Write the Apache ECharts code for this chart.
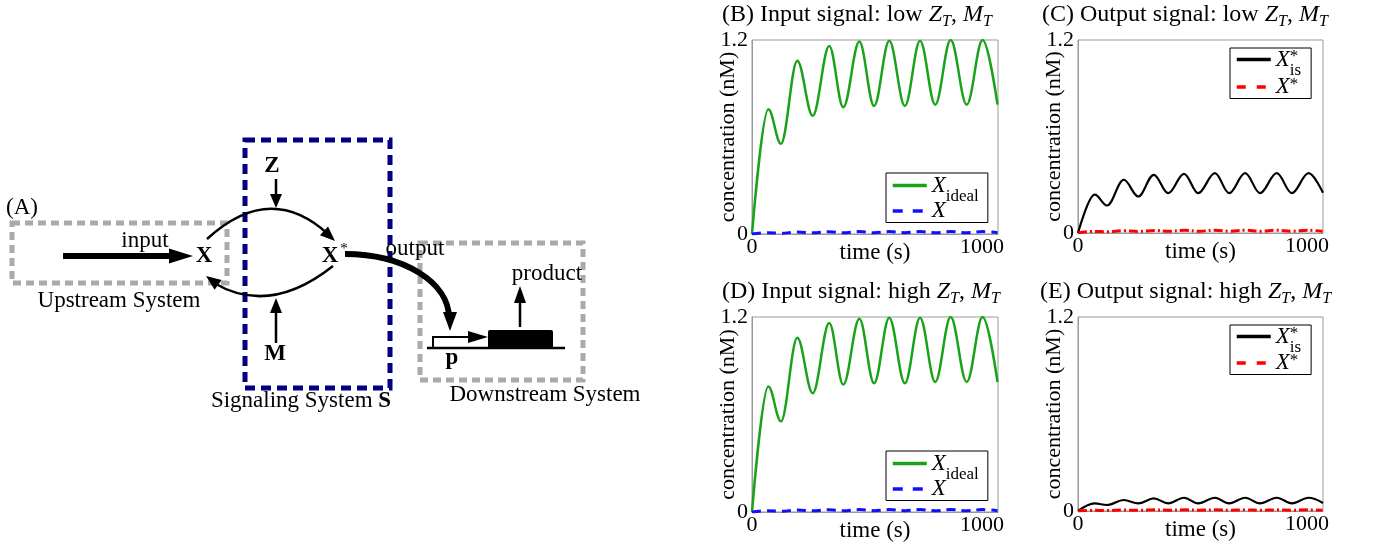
<!DOCTYPE html>
<html>
<head>
<meta charset="utf-8">
<script src="https://cdn.jsdelivr.net/npm/echarts@6/dist/echarts.min.js"></script>
<style>
  html, body { margin: 0; padding: 0; background: #fff; }
  #main { width: 1375px; height: 544px; }
</style>
</head>
<body>
<div id="main"></div>
<script>
// 数据: 时间 (s) 与浓度 (nM), 取曲线的峰与谷
const timeIdeal = [0, 71, 126, 197, 264, 336, 397, 467, 531, 597, 665, 731, 797, 864, 934, 1003, 1068];
const valIdeal = [0, 0.772, 0.558, 1.072, 0.731, 1.163, 0.784, 1.19, 0.792, 1.195, 0.792, 1.195, 0.80, 1.2, 0.80, 1.2, 0.80];

const timeSmall = [0, 71, 126, 197, 264, 336, 397, 467, 531, 597, 665, 731, 797, 864, 934, 1003, 1068];
const valX = [0, 0.008, 0.005, 0.012, 0.007, 0.014, 0.008, 0.015, 0.008, 0.015, 0.008, 0.015, 0.008, 0.015, 0.008, 0.015, 0.008];
const valStarLow = [0, 0.01, 0.008, 0.014, 0.01, 0.016, 0.011, 0.017, 0.011, 0.017, 0.011, 0.017, 0.011, 0.017, 0.011, 0.017, 0.011];
const valStarHigh = [0, 0.004, 0.003, 0.006, 0.004, 0.007, 0.005, 0.007, 0.005, 0.007, 0.005, 0.007, 0.005, 0.007, 0.005, 0.007, 0.005];

const timeIs = [0, 73, 127, 200, 263, 331, 394, 463, 525, 598, 660, 730, 795, 868, 934, 1007, 1070];
const valIsLow = [0, 0.238, 0.171, 0.331, 0.227, 0.362, 0.248, 0.368, 0.248, 0.372, 0.248, 0.372, 0.248, 0.372, 0.248, 0.372, 0.25];
const valIsHigh = [0, 0.047, 0.037, 0.068, 0.047, 0.078, 0.047, 0.082, 0.047, 0.082, 0.047, 0.082, 0.047, 0.082, 0.047, 0.082, 0.05];

const xTicks = [0, 1000];
const yTicks = [0, 1.2];
const timeMax = 1070;

const FONT = 'Liberation Serif';
const pairs = (t, v) => t.map((x, i) => [x, v[i]]);

// 图例文字 (富文本: 上标/下标)
const legendNames = {
  Xideal: '{i|X}{sub|ideal}',
  X: '{i|X}',
  Xis: '{i|X}{sup0|*}{sub|is}',
  Xstar: '{i|X}{sup|*}'
};
const richMath = {
  i: { fontFamily: FONT, fontStyle: 'italic', fontSize: 23, lineHeight: 22 },
  sub: { fontFamily: FONT, fontSize: 17, lineHeight: 8, verticalAlign: 'top', padding: [14, 0, 0, 0] },
  sup: { fontFamily: FONT, fontSize: 17, lineHeight: 8, verticalAlign: 'top' },
  sup0: { fontFamily: FONT, fontSize: 17, lineHeight: 8, verticalAlign: 'top', width: 0 }
};

// 各子图位置
const panels = [
  { grid: { left: 752, top: 40, width: 246, height: 194 }, title: '(B) Input signal: low', tpos: [722, 2],
    legend: { left: 886, top: 173, gap: -6 }, kind: 'input' },
  { grid: { left: 1078, top: 40, width: 245, height: 193 }, title: '(C) Output signal: low', tpos: [1042, 2],
    legend: { left: 1230, top: 48, gap: -4 }, kind: 'outLow' },
  { grid: { left: 752, top: 317, width: 246, height: 195 }, title: '(D) Input signal: high', tpos: [722, 279],
    legend: { left: 886, top: 451, gap: -6 }, kind: 'input' },
  { grid: { left: 1078, top: 317, width: 245, height: 194 }, title: '(E) Output signal: high', tpos: [1040, 279],
    legend: { left: 1230, top: 325, gap: -5 }, kind: 'outHigh' }
];

const grid = [], xAxis = [], yAxis = [], series = [], title = [], legend = [];

panels.forEach((p, k) => {
  grid.push(Object.assign({ show: true, borderColor: '#999', borderWidth: 1, backgroundColor: 'transparent' }, p.grid));
  xAxis.push({
    type: 'value', gridIndex: k, min: 0, max: timeMax, interval: xTicks[1] - xTicks[0],
    name: 'time (s)', nameLocation: 'middle', nameGap: 7, nameMoveOverlap: false,
    nameTextStyle: { fontFamily: FONT, fontSize: 23, color: '#000' },
    axisLine: { lineStyle: { color: '#999' } }, axisTick: { show: false }, splitLine: { show: false },
    axisLabel: { margin: 2, fontFamily: FONT, fontSize: 22, color: '#000',
      formatter: v => (xTicks.indexOf(v) >= 0 ? String(v) : '') }
  });
  yAxis.push({
    type: 'value', gridIndex: k, min: 0, max: yTicks[1], interval: yTicks[1] - yTicks[0],
    name: 'concentration (nM)', nameLocation: 'middle', nameGap: 13, nameRotate: 90, nameMoveOverlap: false,
    nameTextStyle: { fontFamily: FONT, fontSize: 22, color: '#000' },
    axisLine: { show: true, lineStyle: { color: '#999' } }, axisTick: { show: false }, splitLine: { show: false },
    axisLabel: { margin: 4, fontFamily: FONT, fontSize: 22, color: '#000',
      formatter: v => (v === 0 ? '0' : v.toFixed(1)) }
  });
  title.push({
    text: p.title + ' {i|Z}{s|T}, {i|M}{s|T}', left: p.tpos[0], top: p.tpos[1], padding: 0,
    textStyle: { fontFamily: FONT, fontSize: 24, fontWeight: 'normal', color: '#000', lineHeight: 26,
      rich: {
        i: { fontFamily: FONT, fontStyle: 'italic', fontSize: 24, lineHeight: 26 },
        s: { fontFamily: FONT, fontStyle: 'italic', fontSize: 16, lineHeight: 10, verticalAlign: 'top', padding: [12, 0, 0, 0] }
      } }
  });

  const base = { type: 'line', xAxisIndex: k, yAxisIndex: k, showSymbol: false, symbol: 'none',
    smooth: 0.36, smoothMonotone: 'x' };
  let names;
  if (p.kind === 'input') {
    names = [{ name: 'Xideal' }, { name: 'X', lineStyle: { type: [10, 10] } }];
    series.push(Object.assign({}, base, { name: 'Xideal', data: pairs(timeIdeal, valIdeal),
      lineStyle: { color: '#1aa31a', width: 2.5 }, itemStyle: { color: '#1aa31a' } }));
    series.push(Object.assign({}, base, { name: 'X', data: pairs(timeSmall, valX),
      lineStyle: { color: '#1010ff', width: 3, type: [9, 6] }, itemStyle: { color: '#1010ff' } }));
  } else {
    const high = p.kind === 'outHigh';
    names = [{ name: 'Xis' }, { name: 'Xstar', lineStyle: { type: [9, 11] } }];
    series.push(Object.assign({}, base, { name: 'Xis', data: pairs(timeIs, high ? valIsHigh : valIsLow),
      lineStyle: { color: '#000', width: 2.2 }, itemStyle: { color: '#000' } }));
    series.push(Object.assign({}, base, { name: 'Xstar', data: pairs(timeSmall, high ? valStarHigh : valStarLow),
      lineStyle: { color: '#ff0000', width: 3, type: [9, 3, 2, 3] }, itemStyle: { color: '#ff0000' } }));
  }
  const isIn = p.kind === 'input';
  legend.push({
    data: names, orient: 'vertical', left: p.legend.left, top: p.legend.top,
    itemWidth: 34, itemHeight: 14, itemGap: p.legend.gap,
    padding: isIn ? [1, 9, 0, 5] : [0, 10, 0, 5],
    borderColor: '#000', borderWidth: 1, backgroundColor: '#fff',
    selectedMode: false,
    itemStyle: { opacity: 0 },
    lineStyle: { width: 3.5 },
    formatter: n => legendNames[n],
    textStyle: { fontFamily: FONT, fontSize: 22, color: '#000', lineHeight: 22, rich: richMath }
  });
});

// 示意图 (A)
function head(tx, ty, ang, len, hw) {
  const bx = tx - len * Math.cos(ang), by = ty - len * Math.sin(ang);
  const px = -Math.sin(ang) * hw, py = Math.cos(ang) * hw;
  return { type: 'polygon', shape: { points: [[tx, ty], [bx + px, by + py], [bx - px, by - py]] }, style: { fill: '#000' } };
}
function txt(text, x, y, extra) {
  return { type: 'text', x: x, y: y, style: Object.assign({
    text: text, fontFamily: FONT, fontSize: 23, fill: '#000',
    align: 'center', verticalAlign: 'middle', textAlign: 'center', textVerticalAlign: 'middle'
  }, extra || {}) };
}
const boxGray = { fill: 'none', stroke: '#aaa', lineWidth: 5, lineDash: [8, 5] };
const lineBlack = w => ({ stroke: '#000', lineWidth: w, fill: 'none' });

const diagram = [
  { type: 'rect', shape: { x: 12, y: 223, width: 215, height: 60 }, style: boxGray },
  { type: 'rect', shape: { x: 420, y: 243, width: 163, height: 137 }, style: boxGray },
  { type: 'rect', shape: { x: 245, y: 140, width: 145, height: 248 },
    style: { fill: 'none', stroke: '#00007f', lineWidth: 5, lineDash: [10, 6] } },
  // input
  { type: 'line', shape: { x1: 63, y1: 256, x2: 175, y2: 256 }, style: lineBlack(6) },
  head(193, 256, 0, 24, 7.5),
  // 上下弧
  { type: 'bezierCurve', shape: { x1: 207, y1: 239, cpx1: 270, cpy1: 181, x2: 328, y2: 234 }, style: lineBlack(2.5) },
  head(335, 241, Math.atan2(60, 65), 15, 6),
  { type: 'bezierCurve', shape: { x1: 333, y1: 266, cpx1: 270, cpy1: 316, x2: 214, y2: 283 }, style: lineBlack(2.5) },
  head(206, 276, Math.atan2(-46, -63), 15, 6),
  // Z, M
  { type: 'line', shape: { x1: 276, y1: 179, x2: 276, y2: 197 }, style: lineBlack(2.5) },
  head(276, 208, Math.PI / 2, 14, 6),
  { type: 'line', shape: { x1: 276, y1: 343, x2: 276, y2: 310 }, style: lineBlack(2.5) },
  head(276, 298, -Math.PI / 2, 15, 6),
  // output
  { type: 'bezierCurve', shape: { x1: 345, y1: 254, cpx1: 403, cpy1: 254, cpx2: 449, cpy2: 282, x2: 449, y2: 318 }, style: lineBlack(6) },
  head(450, 331, Math.PI / 2, 19, 7),
  // 启动子与基因
  { type: 'line', shape: { x1: 427, y1: 348, x2: 565, y2: 348 }, style: lineBlack(2.5) },
  { type: 'rect', shape: { x: 488, y: 330, width: 65, height: 19, r: 2 }, style: { fill: '#000' } },
  { type: 'polyline', shape: { points: [[433, 348], [433, 337], [470, 337]] }, style: lineBlack(2) },
  head(488, 337, 0, 20, 6),
  { type: 'line', shape: { x1: 520, y1: 327, x2: 520, y2: 300 }, style: lineBlack(2.5) },
  head(520, 286, -Math.PI / 2, 17, 6),
  // 文字
  txt('(A)', 6, 208, { align: 'left', textAlign: 'left' }),
  txt('input', 145, 241),
  txt('X', 204, 256, { fontWeight: 'bold' }),
  txt('Upstream System', 119, 301),
  txt('Z', 272, 166, { fontWeight: 'bold' }),
  txt('M', 275, 354, { fontWeight: 'bold' }),
  txt('X', 330, 256, { fontWeight: 'bold' }),
  txt('*', 344, 249, { fontSize: 15 }),
  txt('output', 415, 249),
  txt('product', 547, 274),
  txt('p', 452, 358, { fontWeight: 'bold' }),
  txt('Signaling System {b|S}', 301, 401, { rich: { b: { fontFamily: FONT, fontSize: 23, fontWeight: 'bold' } } }),
  txt('Downstream System', 545, 395)
];

const chart = echarts.init(document.getElementById('main'), null, { renderer: 'canvas' });
chart.setOption({
  animation: false,
  backgroundColor: '#fff',
  title: title,
  legend: legend,
  grid: grid,
  xAxis: xAxis,
  yAxis: yAxis,
  series: series,
  graphic: { elements: diagram.map(e => Object.assign({ silent: true }, e)) }
});
</script>
</body>
</html>
